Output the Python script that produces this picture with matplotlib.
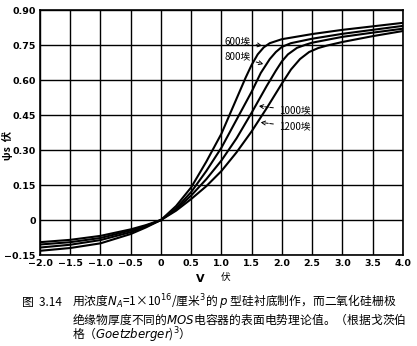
import matplotlib
matplotlib.use('Agg')
import matplotlib.pyplot as plt

plt.rcParams['font.family'] = ['Noto Sans CJK SC', 'DejaVu Sans']

# psi_s vs V for four oxide thicknesses
v_600 = [-2.0, -1.5, -1.0, -0.5, -0.25, 0.0, 0.25, 0.5, 0.75, 1.0, 1.25, 1.4, 1.5, 1.6, 1.7, 1.8, 2.0, 2.5, 3.0, 3.5, 4.0]
psi_600 = [-0.095, -0.085, -0.068, -0.040, -0.022, 0.0, 0.06, 0.14, 0.25, 0.37, 0.52, 0.61, 0.665, 0.71, 0.74, 0.758, 0.775, 0.797, 0.815, 0.83, 0.845]

v_800 = [-2.0, -1.5, -1.0, -0.5, -0.25, 0.0, 0.25, 0.5, 0.75, 1.0, 1.25, 1.5, 1.65, 1.8, 1.9, 2.0, 2.15, 2.5, 3.0, 3.5, 4.0]
psi_800 = [-0.105, -0.095, -0.077, -0.045, -0.025, 0.0, 0.05, 0.12, 0.21, 0.31, 0.43, 0.55, 0.63, 0.69, 0.72, 0.742, 0.758, 0.777, 0.798, 0.815, 0.832]

v_1000 = [-2.0, -1.5, -1.0, -0.5, -0.25, 0.0, 0.25, 0.5, 0.75, 1.0, 1.25, 1.5, 1.75, 1.9, 2.0, 2.1, 2.25, 2.4, 2.5, 3.0, 3.5, 4.0]
psi_1000 = [-0.118, -0.106, -0.086, -0.052, -0.028, 0.0, 0.045, 0.105, 0.175, 0.255, 0.35, 0.46, 0.575, 0.64, 0.68, 0.71, 0.738, 0.752, 0.76, 0.785, 0.803, 0.82]

v_1200 = [-2.0, -1.5, -1.0, -0.5, -0.25, 0.0, 0.25, 0.5, 0.75, 1.0, 1.25, 1.5, 1.75, 2.0, 2.15, 2.3, 2.45, 2.6, 2.75, 3.0, 3.5, 4.0]
psi_1200 = [-0.132, -0.12, -0.10, -0.06, -0.032, 0.0, 0.04, 0.09, 0.145, 0.21, 0.29, 0.38, 0.48, 0.585, 0.645, 0.69, 0.72, 0.737, 0.748, 0.763, 0.788, 0.81]

xticks = [-2.0, -1.5, -1.0, -0.5, 0.0, 0.5, 1.0, 1.5, 2.0, 2.5, 3.0, 3.5, 4.0]
xlabels = ['−2.0', '−1.5', '−1.0', '−0.5', '0', '0.5', '1.0', '1.5', '2.0', '2.5', '3.0', '3.5', '4.0']
yticks = [-0.15, 0.0, 0.15, 0.30, 0.45, 0.60, 0.75, 0.90]
ylabels = ['−0.15', '0', '0.15', '0.30', '0.45', '0.60', '0.75', '0.90']

fig = plt.figure(figsize=(4.17, 3.46), dpi=100)
ax = fig.add_axes([0.096, 0.263, 0.870, 0.708])

for v, psi in [(v_600, psi_600), (v_800, psi_800), (v_1000, psi_1000), (v_1200, psi_1200)]:
    ax.plot(v, psi, color='black', lw=1.5)

ax.set_xlim(-2.0, 4.0)
ax.set_ylim(-0.15, 0.90)
ax.set_xticks(xticks)
ax.set_xticklabels(xlabels, fontsize=6.8, fontweight='bold', family='DejaVu Sans')
ax.set_yticks(yticks)
ax.set_yticklabels(ylabels, fontsize=6.8, fontweight='bold', family='DejaVu Sans')
ax.tick_params(length=0, pad=3)
ax.grid(True, color='black', lw=1.0)
for s in ax.spines.values():
    s.set_linewidth(1.2)

# thickness labels with dashed arrows
arrow = dict(arrowstyle='->', linestyle='--', lw=0.7, color='black')
ax.annotate('600埃', xy=(1.72, 0.745), xytext=(1.05, 0.765), fontsize=7,
            va='center', arrowprops=arrow)
ax.annotate('800埃', xy=(1.74, 0.665), xytext=(1.05, 0.70), fontsize=7,
            va='center', arrowprops=arrow)
ax.annotate('1000埃', xy=(1.57, 0.49), xytext=(1.95, 0.47), fontsize=7,
            va='center', arrowprops=arrow)
ax.annotate('1200埃', xy=(1.6, 0.42), xytext=(1.95, 0.40), fontsize=7,
            va='center', arrowprops=arrow)

# axis labels
fig.text(0.018, 0.58, 'ψs  伏', rotation=90, fontsize=7.5, fontweight='bold',
         ha='center', va='center')
fig.text(0.48, 0.195, 'V', fontsize=8, fontweight='bold', family='DejaVu Sans',
         ha='center', va='center')
fig.text(0.54, 0.198, '伏', fontsize=7, ha='center', va='center')

# caption
fig.text(0.053, 0.126, '图  3.14', fontsize=8.5, va='center')
fig.text(0.172, 0.126, '用浓度$N_A$=1×10$^{16}$/厘米$^3$的 $p$ 型硅衬底制作，而二氧化硅栅极',
         fontsize=8.5, va='center')
fig.text(0.172, 0.078, '绝缘物厚度不同的$MOS$电容器的表面电势理论值。（根据戈茨伯',
         fontsize=8.5, va='center')
fig.text(0.172, 0.030, '格（$Goetzberger$)$^3$）', fontsize=8.5, va='center')

fig.savefig('out.png', dpi=100)
